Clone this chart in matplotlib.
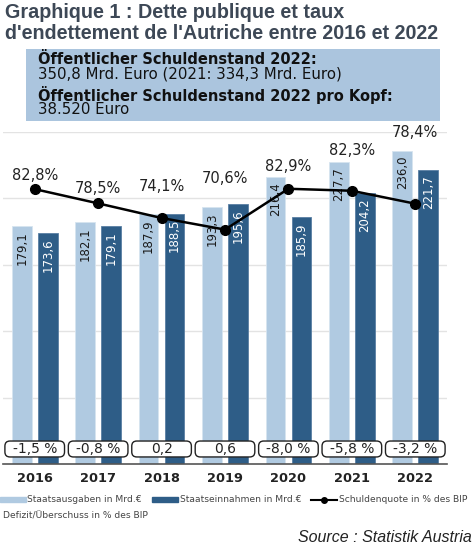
import matplotlib.pyplot as plt
import numpy as np
from matplotlib.patches import FancyBboxPatch, Rectangle
from matplotlib.lines import Line2D
from matplotlib import font_manager

years = ['2016', '2017', '2018', '2019', '2020', '2021', '2022']
ausgaben = [179.1, 182.1, 187.9, 193.3, 216.4, 227.7, 236.0]
einnahmen = [173.6, 179.1, 188.5, 195.6, 185.9, 204.2, 221.7]
quote = [82.8, 78.5, 74.1, 70.6, 82.9, 82.3, 78.4]
saldo = ['-1,5 %', '-0,8 %', '0,2', '0,6', '-8,0 %', '-5,8 %', '-3,2 %']

# pixel offsets of the percent labels above the line (manual layout as in the original)
label_lift = [14, 15, 31, 51, 22, 40, 71]

light = '#b0cae1'
dark = '#2e5d87'

# narrow font for the bar values if one is around
names = {f.name for f in font_manager.fontManager.ttflist}
narrow = 'Liberation Sans Narrow' if 'Liberation Sans Narrow' in names else 'DejaVu Sans'

fig = plt.figure(figsize=(4.75, 5.53), dpi=100)
ax = fig.add_axes([3/475, 1 - 464/553, 444/475, 332/553])
ax2 = ax.twinx()

x = np.arange(len(years))
w = 0.31
b1 = ax.bar(x - 0.205, ausgaben, w, color=light, edgecolor='#d6e4f0', linewidth=0.6, zorder=2)
b2 = ax.bar(x + 0.205, einnahmen, w, color=dark, edgecolor='#5a7fa3', linewidth=0.6, zorder=2)

ax.set_xlim(-0.5, len(years) - 0.5)
ax.set_ylim(0, 250)
ax2.set_ylim(0, 100)

ax.set_yticks([50, 100, 150, 200, 250])
ax.grid(axis='y', color='#e3e3e3', linewidth=1, zorder=0)
ax.set_axisbelow(True)
for s in ['top', 'left', 'right']:
    ax.spines[s].set_visible(False)
    ax2.spines[s].set_visible(False)
ax2.spines['bottom'].set_visible(False)
ax.spines['bottom'].set_color('#555555')
ax.spines['bottom'].set_linewidth(1.2)
ax.tick_params(left=False, labelleft=False, bottom=False, labelbottom=False)
ax2.tick_params(right=False, labelright=False)
ax.patch.set_visible(False)

# bar value labels
bar_fs = 9.5 if narrow != 'DejaVu Sans' else 8.5
for rect, v in zip(b1, ausgaben):
    ax.text(rect.get_x() + rect.get_width() / 2, v - 4, f'{v:.1f}'.replace('.', ','),
            rotation=90, ha='center', va='top', fontsize=bar_fs, family=narrow,
            color='#1a1a1a', zorder=3)
for rect, v in zip(b2, einnahmen):
    ax.text(rect.get_x() + rect.get_width() / 2, v - 4, f'{v:.1f}'.replace('.', ','),
            rotation=90, ha='center', va='top', fontsize=bar_fs, family=narrow,
            color='white', zorder=3)

# debt ratio line
ax2.plot(x, quote, color='black', linewidth=1.8, marker='o', markersize=7, zorder=5)
for xi, q, lift in zip(x, quote, label_lift):
    ax2.annotate(f'{q:.1f}%'.replace('.', ','), (xi, q), xytext=(0, lift),
                 textcoords='offset pixels', ha='center', va='center',
                 fontsize=10.5, color='#222222')

# deficit / surplus boxes
asp = (444 / 7) / (332 / 250)
for xi, s in zip(x, saldo):
    box = FancyBboxPatch((xi - 0.47, 5.3), 0.94, 12.0,
                         boxstyle='round,pad=0,rounding_size=0.08',
                         mutation_aspect=asp, facecolor='white',
                         edgecolor='#222222', linewidth=1.0, zorder=6)
    ax.add_patch(box)
    ax.text(xi, 11.3, s, ha='center', va='center', fontsize=10, color='#222222', zorder=7)

# year labels
for xi, yr in zip(x, years):
    ax.text(xi, -6, yr, ha='center', va='top', fontsize=9.3, fontweight='bold',
            color='#222222', clip_on=False)

# title
fig.text(5/475, 1 - 3/553, "Graphique 1 : Dette publique et taux\nd'endettement de l'Autriche entre 2016 et 2022",
         ha='left', va='top', fontsize=14.2, fontweight='bold', family='Liberation Sans',
         color='#3d4856', linespacing=1.12)

# info box
fig.patches.append(Rectangle((26/475, 1 - 121/553), 414/475, 72/553,
                             transform=fig.transFigure, facecolor='#abc5de',
                             edgecolor='none', figure=fig))
fig.text(38/475, 1 - 59/553, 'Öffentlicher Schuldenstand 2022:', fontsize=10.5,
         fontweight='bold', va='center', color='#111111')
fig.text(38/475, 1 - 74/553, '350,8 Mrd. Euro (2021: 334,3 Mrd. Euro)', fontsize=10.8,
         va='center', color='#111111')
fig.text(38/475, 1 - 95/553, 'Öffentlicher Schuldenstand 2022 pro Kopf:', fontsize=10.5,
         fontweight='bold', va='center', color='#111111')
fig.text(38/475, 1 - 110/553, '38.520 Euro', fontsize=10.8, va='center', color='#111111')

# legend
handles = [Rectangle((0, 0), 1, 1, color=light),
           Rectangle((0, 0), 1, 1, color=dark),
           Line2D([], [], color='black', marker='o', markersize=4, linewidth=1.5)]
labels = ['Staatsausgaben in Mrd.€', 'Staatseinnahmen in Mrd.€', 'Schuldenquote in % des BIP']
leg = fig.legend(handles, labels, loc='center left', bbox_to_anchor=(0, 1 - 500/553),
                 ncol=3, frameon=False, fontsize=6.6, handlelength=2.8, handleheight=0.5,
                 handletextpad=0.2, columnspacing=1.1, borderaxespad=0, borderpad=0)
for t in leg.get_texts():
    t.set_color('#444444')
fig.text(3/475, 1 - 516/553, 'Defizit/Überschuss in % des BIP', fontsize=6.6,
         va='center', color='#444444')

fig.text(472/475, 1 - 537/553, 'Source : Statistik Austria', ha='right', va='center',
         fontsize=11.5, style='italic', family='Liberation Sans', color='#222222')

fig.savefig('out.png', dpi=100)
